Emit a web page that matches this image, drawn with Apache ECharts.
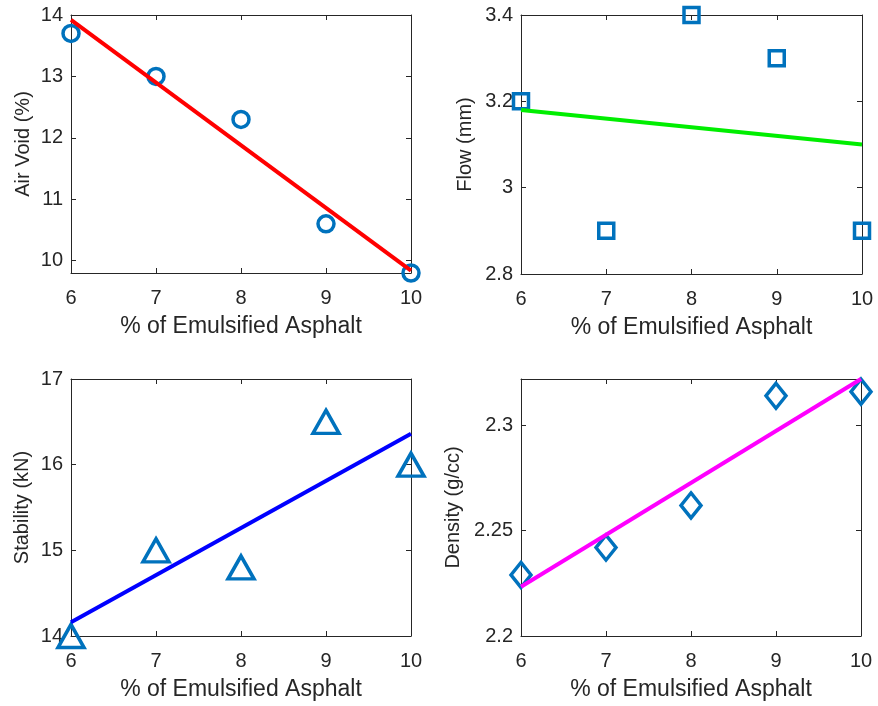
<!DOCTYPE html>
<html>
<head>
<meta charset="utf-8">
<script src="https://cdn.jsdelivr.net/npm/echarts@6/dist/echarts.min.js"></script>
<style>html,body{margin:0;padding:0;background:#fff}#c{width:878px;height:706px}</style>
</head>
<body>
<div id="c"></div>
<script>
// ---- data ----
const xValues = [6, 7, 8, 9, 10];
const xTicks = [6, 7, 8, 9, 10];
const xName = '% of Emulsified Asphalt';

const airVoid = [13.7, 13.0, 12.3, 10.6, 9.8];
const airVoidFit = [13.92, 9.84];
const airVoidTicks = [10, 11, 12, 13, 14];

const flow = [3.2, 2.9, 3.4, 3.3, 2.9];
const flowFit = [3.18, 3.10];
const flowTicks = [2.8, 3, 3.2, 3.4];

const stability = [14.0, 15.0, 14.8, 16.5, 16.0];
const stabilityFit = [14.16, 16.36];
const stabilityTicks = [14, 15, 16, 17];

const density = [2.229, 2.242, 2.262, 2.314, 2.316];
const densityFit = [2.2234, 2.322];
const densityTicks = [2.2, 2.25, 2.3];

const fitX = [6, 10];

// ---- layout / styles ----
const FONT = 'Liberation Sans, Arial, Helvetica, sans-serif';
const TXT = '#262626';
const MARK = '#0072BD';

const panels = [
  {grid:{left:71, top:15, width:340, height:258}, y:airVoid, fit:airVoidFit, ticks:airVoidTicks, ymin:9.8, ymax:14,
   name:'Air Void (%)', yGap:38, sym:'circle', size:16, color:'#ff0000'},
  {grid:{left:521, top:15, width:341, height:259}, y:flow, fit:flowFit, ticks:flowTicks, ymin:2.8, ymax:3.4,
   name:'Flow (mm)', yGap:46, sym:'rect', size:15, color:'#00ee00'},
  {grid:{left:71, top:379, width:340, height:257}, y:stability, fit:stabilityFit, ticks:stabilityTicks, ymin:14, ymax:17,
   name:'Stability (kN)', yGap:39, sym:'triangle', size:[26,23], color:'#0000ff'},
  {grid:{left:521, top:379, width:340, height:257}, y:density, fit:densityFit, ticks:densityTicks, ymin:2.2, ymax:2.322,
   name:'Density (g/cc)', yGap:58, sym:'diamond', size:[20,25], color:'#ff00ff'}
];

const grid = [], xAxis = [], yAxis = [], series = [];
const lineStyle = {color: TXT, width: 1};
panels.forEach((p, i) => {
  grid.push(Object.assign({containLabel:false}, p.grid));
  // bottom x
  xAxis.push({type:'value', gridIndex:i, min:6, max:10, position:'bottom',
    name:xName, nameLocation:'middle', nameGap:42,
    nameTextStyle:{fontFamily:FONT, fontSize:23, color:TXT},
    axisLine:{show:true, onZero:false, lineStyle},
    axisTick:{show:true, inside:true, length:5, lineStyle, customValues:xTicks},
    axisLabel:{show:true, margin:15, fontFamily:FONT, fontSize:20, color:TXT, customValues:xTicks},
    splitLine:{show:false}});
  // top mirror x
  xAxis.push({type:'value', gridIndex:i, min:6, max:10, position:'top',
    axisLine:{show:true, onZero:false, lineStyle},
    axisTick:{show:true, inside:true, length:5, lineStyle, customValues:xTicks},
    axisLabel:{show:false}, splitLine:{show:false}});
  // left y
  yAxis.push({type:'value', gridIndex:i, min:p.ymin, max:p.ymax, position:'left',
    name:p.name, nameLocation:'middle', nameGap:p.yGap,
    nameTextStyle:{fontFamily:FONT, fontSize:20, color:TXT},
    axisLine:{show:true, onZero:false, lineStyle},
    axisTick:{show:true, inside:true, length:5, lineStyle, customValues:p.ticks},
    axisLabel:{show:true, margin:8, fontFamily:FONT, fontSize:20, color:TXT, customValues:p.ticks},
    splitLine:{show:false}});
  // right mirror y
  yAxis.push({type:'value', gridIndex:i, min:p.ymin, max:p.ymax, position:'right',
    axisLine:{show:true, onZero:false, lineStyle},
    axisTick:{show:true, inside:true, length:5, lineStyle, customValues:p.ticks},
    axisLabel:{show:false}, splitLine:{show:false}});

  series.push({type:'scatter', xAxisIndex:2*i, yAxisIndex:2*i, clip:false,
    symbol:p.sym, symbolSize:p.size,
    itemStyle:{color:'rgba(255,255,255,0)', borderColor:MARK, borderWidth:3.5, opacity:1},
    data: xValues.map((x, k) => [x, p.y[k]]), z:2});
  series.push({type:'line', xAxisIndex:2*i, yAxisIndex:2*i, showSymbol:false, symbol:'none',
    lineStyle:{color:p.color, width:4}, clip:false,
    data: fitX.map((x, k) => [x, p.fit[k]]), z:3});
});

const chart = echarts.init(document.getElementById('c'), null, {renderer:'canvas'});
chart.setOption({animation:false, backgroundColor:'#fff', grid, xAxis, yAxis, series});
</script>
</body>
</html>
